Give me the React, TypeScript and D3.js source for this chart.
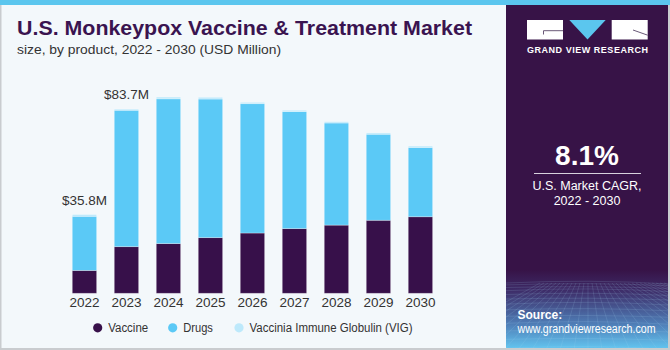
import React, { useRef, useEffect } from "react";
import * as d3 from "d3";

// values (USD Million)
const years = ["2022", "2023", "2024", "2025", "2026", "2027", "2028", "2029", "2030"];
const vaccine = [10.4, 21.2, 22.6, 25.3, 27.4, 29.4, 31.0, 33.2, 34.8];
const drugs = [24.6, 62.0, 65.8, 63.0, 58.8, 53.2, 46.4, 39.1, 31.5];
const vig = [0.8, 0.5, 0.8, 0.8, 0.6, 0.6, 0.6, 0.6, 0.6];
const barLabels = ["$35.8M", "$83.7M"];

const seriesNames = ["Vaccine", "Drugs", "Vaccinia Immune Globulin (VIG)"];
const seriesColors = ["#37104a", "#5bc9f6", "#bde9fb"];

const W = 670, H = 350;
const FONT = "'Liberation Sans', Arial, sans-serif";

export default function App() {
  const svgRef = useRef<SVGSVGElement>(null);

  useEffect(() => {
    const svg = d3.select(svgRef.current)
      .attr("width", W)
      .attr("height", H)
      .attr("viewBox", `0 0 ${W} ${H}`);
    svg.selectAll("*").remove();

    const defs = svg.append("defs");
    const grad = defs.append("linearGradient")
      .attr("id", "panelGrad")
      .attr("x1", 0).attr("y1", 0).attr("x2", 0).attr("y2", 1);
    grad.append("stop").attr("offset", "0%").attr("stop-color", "#371347");
    grad.append("stop").attr("offset", "25%").attr("stop-color", "#3d2a66");
    grad.append("stop").attr("offset", "70%").attr("stop-color", "#4f7fb8");
    grad.append("stop").attr("offset", "100%").attr("stop-color", "#62c3ee");
    defs.append("clipPath").attr("id", "panelClip")
      .append("rect").attr("x", 506).attr("y", 270).attr("width", 162).attr("height", 78);

    // background
    svg.append("rect").attr("width", W).attr("height", H).attr("fill", "#f3f8fb");
    svg.append("rect").attr("x", 0).attr("y", 0).attr("width", 1.5).attr("height", H).attr("fill", "#c9cccf");
    svg.append("rect").attr("x", 0).attr("y", H - 2).attr("width", W).attr("height", 2).attr("fill", "#c9cccf");

    // right panel
    svg.append("rect").attr("x", 506).attr("y", 0).attr("width", 164).attr("height", H - 2).attr("fill", "#371347");
    svg.append("rect").attr("x", 506).attr("y", 270).attr("width", 162).attr("height", 78).attr("fill", "url(#panelGrad)");
    const mesh = svg.append("g").attr("clip-path", "url(#panelClip)")
      .attr("stroke", "#a9d7f2").attr("stroke-opacity", 0.25).attr("stroke-width", 0.6).attr("fill", "none");
    d3.range(0, 16).forEach(i => {
      const yy = 283 + i * i * 0.32 + i * 1.6;
      mesh.append("path").attr("d", `M506,${yy} Q590,${yy - 4 + (i % 3)} 670,${yy + 1}`);
    });
    d3.range(-12, 28).forEach(i => {
      const xTop = 588 + i * 4;
      const xBot = 588 + i * 14;
      mesh.append("line").attr("x1", xTop).attr("y1", 283).attr("x2", xBot).attr("y2", 350);
    });
    svg.append("rect").attr("x", 668).attr("y", 0).attr("width", 2).attr("height", H).attr("fill", "#c9cccf");

    // top stripe
    svg.append("rect").attr("x", 0).attr("y", 0).attr("width", W).attr("height", 5).attr("fill", "#5bc6ee");

    // logo
    const logo = svg.append("g");
    logo.append("rect").attr("x", 527).attr("y", 20).attr("width", 36).attr("height", 19.5).attr("fill", "#fff");
    logo.append("path").attr("d", "M543.5,34.5 V30.7 H563").attr("stroke", "#6a5a78").attr("stroke-width", 1).attr("fill", "none");
    logo.append("path").attr("d", "M569.3,20 L605.7,20 L587.5,39.5 Z").attr("fill", "#5bc6ee");
    logo.append("rect").attr("x", 611.7).attr("y", 20).attr("width", 36).attr("height", 19.5).attr("fill", "#fff");
    logo.append("line").attr("x1", 633).attr("y1", 30).attr("x2", 647.7).attr("y2", 35.2)
      .attr("stroke", "#6a5a78").attr("stroke-width", 1);
    logo.append("text")
      .attr("x", 527).attr("y", 53.3)
      .attr("font-family", FONT).attr("font-weight", "bold").attr("font-size", "9px")
      .attr("fill", "#fff")
      .attr("textLength", 121).attr("lengthAdjust", "spacing")
      .text("GRAND VIEW RESEARCH");

    // CAGR block
    svg.append("text")
      .attr("x", 587).attr("y", 165)
      .attr("text-anchor", "middle")
      .attr("font-family", FONT).attr("font-weight", "bold").attr("font-size", "28px")
      .attr("fill", "#fff")
      .text("8.1%");
    svg.append("line").attr("x1", 534).attr("x2", 641).attr("y1", 173.5).attr("y2", 173.5)
      .attr("stroke", "#d8d2de").attr("stroke-width", 1);
    svg.append("text")
      .attr("x", 587).attr("y", 189.5)
      .attr("text-anchor", "middle")
      .attr("font-family", FONT).attr("font-size", "12.5px").attr("fill", "#fff")
      .text("U.S. Market CAGR,");
    svg.append("text")
      .attr("x", 587).attr("y", 204.5)
      .attr("text-anchor", "middle")
      .attr("font-family", FONT).attr("font-size", "12.5px").attr("fill", "#fff")
      .text("2022 - 2030");

    svg.append("text")
      .attr("x", 517.5).attr("y", 318.5)
      .attr("font-family", FONT).attr("font-weight", "bold").attr("font-size", "12px").attr("fill", "#fff")
      .text("Source:");
    svg.append("text")
      .attr("x", 517.5).attr("y", 332.5)
      .attr("font-family", FONT).attr("font-size", "12px").attr("fill", "#fff")
      .attr("textLength", 138).attr("lengthAdjust", "spacingAndGlyphs")
      .text("www.grandviewresearch.com");

    // titles
    svg.append("text")
      .attr("x", 17).attr("y", 35)
      .attr("font-family", FONT).attr("font-weight", "bold").attr("font-size", "20px")
      .attr("fill", "#3a1450")
      .attr("textLength", 455).attr("lengthAdjust", "spacingAndGlyphs")
      .text("U.S. Monkeypox Vaccine & Treatment Market");
    svg.append("text")
      .attr("x", 17).attr("y", 54)
      .attr("font-family", FONT).attr("font-size", "13.5px")
      .attr("fill", "#333")
      .attr("textLength", 264).attr("lengthAdjust", "spacingAndGlyphs")
      .text("size, by product, 2022 - 2030 (USD Million)");

    // chart
    const baseY = 293.3;
    const x = d3.scaleBand<string>()
      .domain(years)
      .range([60.1, 444.8])
      .paddingInner(0.42)
      .paddingOuter(0.29);
    const y = d3.scaleLinear().domain([0, 100]).range([baseY, baseY - 220]);

    const rows = years.map((yr, i) => ({ year: yr, v0: vaccine[i], v1: drugs[i], v2: vig[i] }));
    const stack = d3.stack<any>().keys(["v0", "v1", "v2"]);
    const layers = stack(rows);

    const g = svg.append("g");
    layers.forEach((layer, li) => {
      g.selectAll(`.bar-${li}`)
        .data(layer)
        .join("rect")
          .attr("class", `bar-${li}`)
          .attr("x", (d: any) => x(d.data.year)!)
          .attr("y", (d: any) => y(d[1]))
          .attr("width", x.bandwidth())
          .attr("height", (d: any) => y(d[0]) - y(d[1]))
          .attr("fill", seriesColors[li])
          .attr("stroke", "#ffffff")
          .attr("stroke-opacity", 0.35)
          .attr("stroke-width", 0.8);
    });

    // total labels for first two bars
    barLabels.forEach((lbl, i) => {
      const total = vaccine[i] + drugs[i] + vig[i];
      g.append("text")
        .attr("x", x(years[i])! + x.bandwidth() / 2)
        .attr("y", y(total) - 10)
        .attr("text-anchor", "middle")
        .attr("font-family", FONT).attr("font-size", "13.5px").attr("fill", "#333")
        .text(lbl);
    });

    // x axis
    const xAxis = g.append("g")
      .attr("transform", `translate(0,${baseY})`)
      .call(d3.axisBottom(x).tickSize(0).tickPadding(4));
    xAxis.select(".domain").remove();
    xAxis.selectAll("text")
      .attr("font-family", FONT).attr("font-size", "13.5px").attr("fill", "#333")
      .attr("dy", "0.75em");

    // legend
    const legendX = [97.7, 172.7, 239];
    const legendW = [40, 29.7, 163];
    const legend = svg.append("g");
    seriesNames.forEach((name, i) => {
      legend.append("circle")
        .attr("cx", legendX[i]).attr("cy", 327.8).attr("r", 4.6)
        .attr("fill", seriesColors[i]);
      legend.append("text")
        .attr("x", legendX[i] + 10.5).attr("y", 332)
        .attr("font-family", FONT).attr("font-size", "12.5px").attr("fill", "#333")
        .attr("textLength", legendW[i]).attr("lengthAdjust", "spacingAndGlyphs")
        .text(name);
    });
  }, []);

  return (
    <div style={{ position: "fixed", left: 0, top: 0, width: W, height: H }}>
      <svg ref={svgRef} style={{ display: "block" }} />
    </div>
  );
}
